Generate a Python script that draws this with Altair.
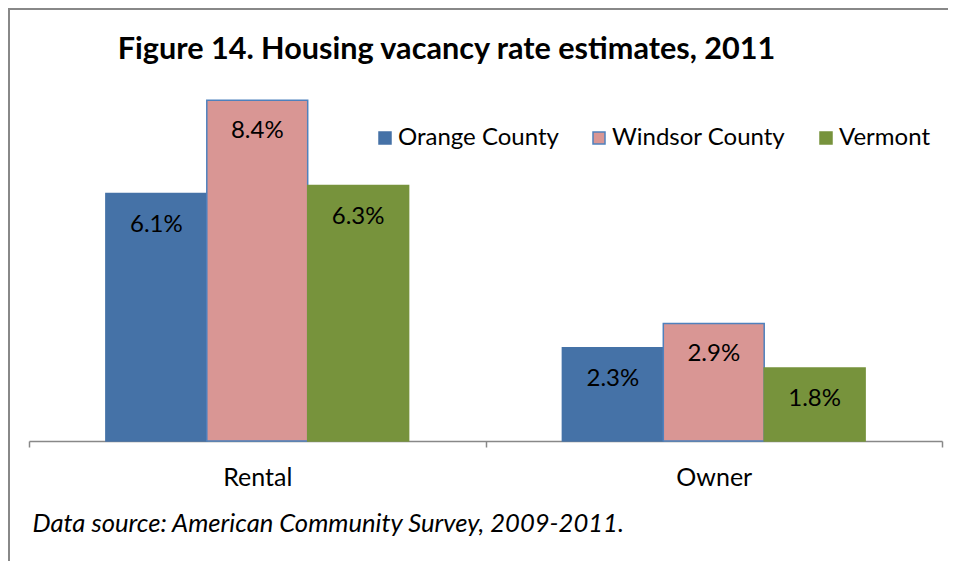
import altair as alt
import pandas as pd

categories = ["Rental", "Owner"]
series = ["Orange County", "Windsor County", "Vermont"]
rental = [6.1, 8.4, 6.3]
owner = [2.3, 2.9, 1.8]
fills = ["#4572A7", "#D99694", "#77933C"]
strokes = ["#4572A7", "#4F81BD", "#77933C"]

rows = []
for cat, vals in zip(categories, [rental, owner]):
    for s, v in zip(series, vals):
        rows.append({"category": cat, "series": s, "value": v})
df = pd.DataFrame(rows)

FONT = "Lato"

x = alt.X(
    "category:N", sort=categories,
    scale=alt.Scale(paddingInner=0, paddingOuter=0),
    axis=alt.Axis(
        title="Data source: American Community Survey, 2009-2011.",
        labelAngle=0, tickBand="extent", domainColor="#888888", tickColor="#888888",
        tickSize=6, tickWidth=1.5, domainWidth=1.5, labelFontSize=25, labelColor="black",
        labelFont=FONT, labelPadding=18, titleFont=FONT, titleFontStyle="italic",
        titleFontWeight="normal", titleFontSize=25.6, titleAlign="left", titleX=3,
        titleY=82, titleBaseline="middle", titleColor="black", grid=False,
    ),
)
xo = alt.XOffset("series:N", sort=series, scale=alt.Scale(paddingInner=0, paddingOuter=0.762))
y = alt.Y("value:Q", scale=alt.Scale(domain=[0, 9]), axis=None)

legend = alt.Legend(
    orient="none", legendX=344, legendY=50, direction="horizontal", title=None,
    symbolType="square", symbolSize=144, labelFontSize=24, labelFont=FONT,
    labelColor="black", columnPadding=28, symbolStrokeWidth=1.5, symbolOpacity=1,
    labelOffset=1, labelLimit=400,
)

base = alt.Chart(df)
bars = base.mark_bar(strokeWidth=1.5, opacity=1).encode(
    x=x, xOffset=xo, y=y,
    color=alt.Color("series:N", sort=series, scale=alt.Scale(domain=series, range=fills), legend=legend),
    stroke=alt.Stroke("series:N", sort=series, scale=alt.Scale(domain=series, range=strokes), legend=legend),
)
labels = base.transform_calculate(
    label="format(datum.value, '.1f') + '%'"
).mark_text(dy=31, baseline="middle", fontSize=24, font=FONT, color="black").encode(
    x=x, xOffset=xo, y=y, text="label:N"
)

frame_df = pd.DataFrame({"k": [0]})
left_border = alt.Chart(frame_df).mark_rule(color="#888888", strokeWidth=2).encode(
    x=alt.value(-20), y=alt.value(-67), y2=alt.value(600)
)
top_border = alt.Chart(frame_df).mark_rule(color="#888888", strokeWidth=2).encode(
    x=alt.value(-21), x2=alt.value(919), y=alt.value(-67), y2=alt.value(-67)
)

chart = alt.layer(bars, labels, left_border, top_border).properties(
    width=913, height=365, background="white",
    title=alt.TitleParams(
        "Figure 14. Housing vacancy rate estimates, 2011", font=FONT, fontSize=30.6,
        fontWeight="bold", color="black", anchor="middle", dx=-39, dy=66, offset=8,
    ),
    autosize=alt.AutoSizeParams(type="none"),
    padding={"left": 21, "top": 68, "right": 6, "bottom": 120},
).configure_view(stroke=None)

chart.save("out.html", embed_options={"renderer": "svg", "actions": False})
